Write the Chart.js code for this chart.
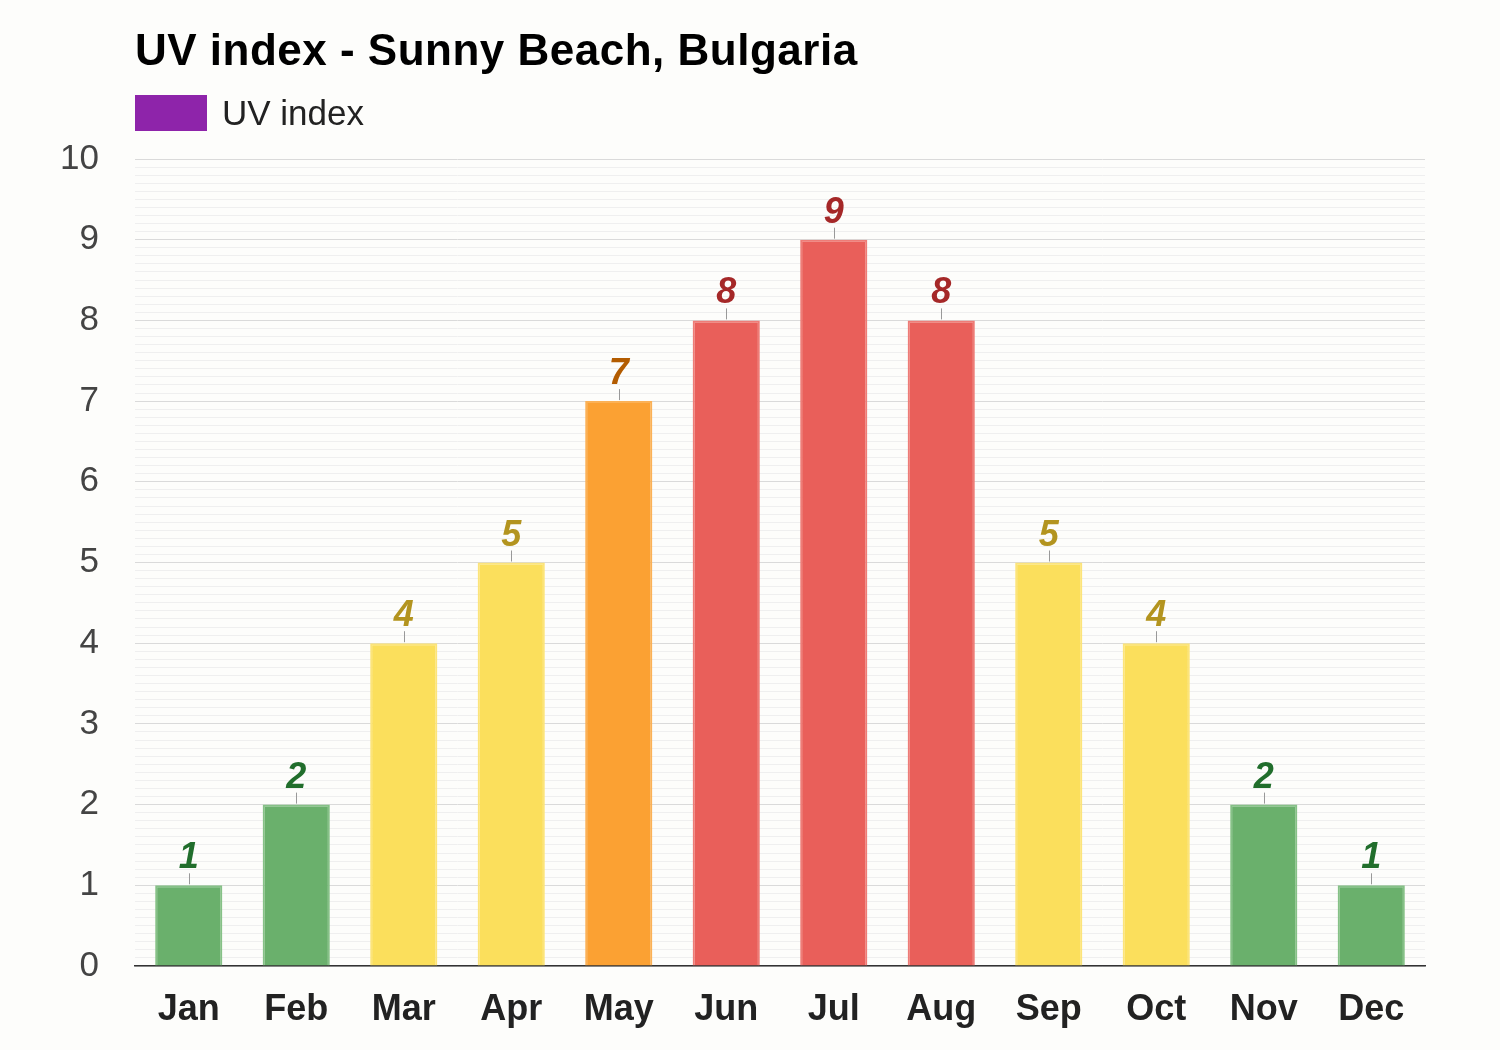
<!DOCTYPE html>
<html>
<head>
<meta charset="utf-8">
<script src="https://cdn.jsdelivr.net/npm/chart.js@4/dist/chart.umd.min.js"></script>
<style>
  html, body { margin: 0; padding: 0; background: #fdfdfb; }
  #wrap { position: relative; width: 1500px; height: 1050px; font-family: "Liberation Sans", Arial, sans-serif; }
  #title { position: absolute; left: 135px; top: 28px; font-size: 44px; line-height: 44px; letter-spacing: 0.5px; font-weight: bold; color: #000; }
  #legend { position: absolute; left: 135px; top: 95px; height: 36px; display: flex; align-items: center; }
  #legend .box { width: 72px; height: 36px; background: #8e24aa; }
  #legend .txt { margin-left: 15px; font-size: 35px; color: #222; }
  canvas { position: absolute; left: 0; top: 0; }
</style>
</head>
<body>
<div id="wrap">
  <canvas id="uvChart" width="1500" height="1050"></canvas>
  <div id="title">UV index - Sunny Beach, Bulgaria</div>
  <div id="legend"><div class="box"></div><div class="txt">UV index</div></div>
</div>
<script>
// monthly UV index, Sunny Beach
const months = ['Jan', 'Feb', 'Mar', 'Apr', 'May', 'Jun', 'Jul', 'Aug', 'Sep', 'Oct', 'Nov', 'Dec'];
const uvIndex = [1, 2, 4, 5, 7, 8, 9, 8, 5, 4, 2, 1];
const yMin = 0;
const yMax = 10;

// UV category colours: fill, border, label
function uvStyle(v) {
  if (v <= 2) return { fill: '#6ab06c', border: '#86c187', label: '#216e2c' };
  if (v <= 5) return { fill: '#fbdf5c', border: '#fce47a', label: '#b3941f' };
  if (v <= 7) return { fill: '#fba133', border: '#fbb156', label: '#b35c00' };
  return { fill: '#e95f5a', border: '#ee7c77', label: '#a52828' };
}

// value labels with a small tick line above each bar
const valueLabels = {
  id: 'valueLabels',
  afterDatasetsDraw(chart) {
    const ctx = chart.ctx;
    const meta = chart.getDatasetMeta(0);
    ctx.save();
    meta.data.forEach((bar, i) => {
      const v = uvIndex[i];
      ctx.strokeStyle = '#999';
      ctx.lineWidth = 1;
      ctx.beginPath();
      ctx.moveTo(Math.round(bar.x) + 0.5, bar.y - 1);
      ctx.lineTo(Math.round(bar.x) + 0.5, bar.y - 12);
      ctx.stroke();
      ctx.fillStyle = uvStyle(v).label;
      ctx.font = 'italic bold 36px "Liberation Sans", Arial, sans-serif';
      ctx.textAlign = 'center';
      ctx.textBaseline = 'alphabetic';
      ctx.fillText(String(v), bar.x, bar.y - 17);
    });
    ctx.restore();
  }
};

const isMajor = v => Math.abs(v - Math.round(v)) < 1e-6;

new Chart(document.getElementById('uvChart'), {
  type: 'bar',
  data: {
    labels: months,
    datasets: [{
      label: 'UV index',
      data: uvIndex,
      backgroundColor: uvIndex.map(v => uvStyle(v).fill),
      borderColor: uvIndex.map(v => uvStyle(v).border),
      borderWidth: 2,
      categoryPercentage: 1,
      barPercentage: 0.625
    }]
  },
  options: {
    responsive: false,
    animation: false,
    layout: { padding: { top: 159, right: 75, bottom: 0, left: 0 } },
    plugins: {
      legend: { display: false },
      title: { display: false },
      tooltip: { enabled: false }
    },
    scales: {
      x: {
        grid: { display: false, drawTicks: false },
        border: { color: '#333', width: 1.5 },
        ticks: {
          padding: 22,
          color: '#222',
          font: { family: '"Liberation Sans", Arial, sans-serif', size: 36, weight: 'bold' }
        },
        afterFit: scale => { scale.height = 84; }
      },
      y: {
        min: yMin,
        max: yMax,
        grid: {
          drawTicks: false,
          color: c => isMajor(c.tick.value) ? '#dadada' : '#efefef',
          lineWidth: 1
        },
        border: { display: false },
        ticks: {
          stepSize: 0.1,
          maxTicksLimit: 200,
          autoSkip: false,
          padding: 36,
          color: '#444',
          font: { family: '"Liberation Sans", Arial, sans-serif', size: 35 },
          callback: v => isMajor(v) ? String(Math.round(v)) : ''
        },
        afterFit: scale => { scale.width = 135; }
      }
    }
  },
  plugins: [valueLabels]
});
</script>
</body>
</html>
